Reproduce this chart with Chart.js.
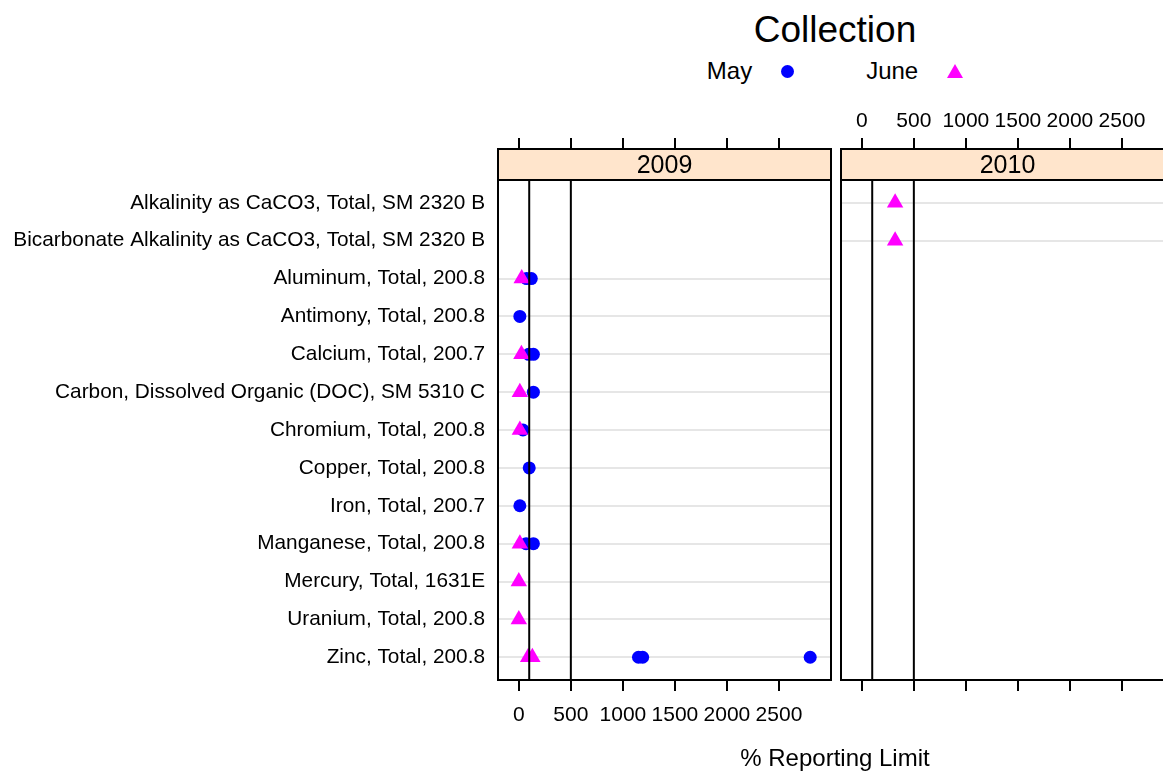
<!DOCTYPE html>
<html>
<head>
<meta charset="utf-8">
<script src="https://cdn.jsdelivr.net/npm/chart.js@4/dist/chart.umd.min.js"></script>
<style>
  body { margin:0; width:1163px; height:775px; overflow:hidden; background:#fff;
         position:relative; font-family:"Liberation Sans", Arial, sans-serif; color:#000; }
  canvas { position:absolute; top:0; }
  #title { position:absolute; left:535px; width:600px; top:9px; text-align:center; font-size:37px; }
  #legend { position:absolute; left:535px; width:600px; top:57px; display:flex;
            justify-content:center; align-items:center; font-size:24px; }
  .dot { width:13px; height:13px; border-radius:50%; background:#00f; margin:0 72px 0 29px; }
  .tri { width:0; height:0; border-left:8px solid transparent; border-right:8px solid transparent;
         border-bottom:14px solid #f0f; margin-left:29px; }
  #xlabel { position:absolute; left:535px; width:600px; top:744px; text-align:center; font-size:24px; }
</style>
</head>
<body>
<div id="title">Collection</div>
<div id="legend"><span>May</span><span class="dot"></span><span>June</span><span class="tri"></span></div>
<canvas id="p2009" width="836" height="775" style="left:0"></canvas>
<canvas id="p2010" width="345" height="775" style="left:836px"></canvas>
<div id="xlabel">% Reporting Limit</div>
<script>
// rows, top to bottom
const categories = [
    'Alkalinity as CaCO3, Total, SM 2320 B',
    'Bicarbonate Alkalinity as CaCO3, Total, SM 2320 B',
    'Aluminum, Total, 200.8',
    'Antimony, Total, 200.8',
    'Calcium, Total, 200.7',
    'Carbon, Dissolved Organic (DOC), SM 5310 C',
    'Chromium, Total, 200.8',
    'Copper, Total, 200.8',
    'Iron, Total, 200.7',
    'Manganese, Total, 200.8',
    'Mercury, Total, 1631E',
    'Uranium, Total, 200.8',
    'Zinc, Total, 200.8'
];
const xTicks = [0, 500, 1000, 1500, 2000, 2500];
const xMin = -200, xMax = 3000;
const refLines = [100, 500];

// % reporting limit per row (several samples per row)
const may2009  = [[], [], [75, 120], [10], [95, 140], [140], [40], [100], [10], [70, 140], [], [], [1150, 1190, 2800]];
const june2009 = [[], [], [28], [], [25], [10], [10], [], [], [10], [0], [0], [90, 130]];
const may2010  = [[], [], [], [], [], [], [], [], [], [], [], [], []];
const june2010 = [[320], [320], [], [], [], [], [], [], [], [], [], [], []];

const FONT = '"Liberation Sans", Arial, sans-serif';
Chart.defaults.font.family = FONT;
Chart.defaults.color = '#000';

function points(rows) {
    return rows.flatMap((vals, i) => vals.map(v => ({x: v, y: i + 1})));
}

const stripPlugin = {
    id: 'strip',
    afterDraw(chart, args, opts) {
        const {ctx, chartArea: a, scales} = chart;
        const sb = scales.y.getPixelForValue(0.4);
        ctx.save();
        ctx.fillStyle = '#ffe5cc';
        ctx.fillRect(a.left, a.top, a.right - a.left, sb - a.top);
        ctx.strokeStyle = '#000';
        ctx.lineWidth = 2;
        ctx.beginPath();
        ctx.moveTo(a.left, sb); ctx.lineTo(a.right, sb);
        ctx.stroke();
        ctx.strokeRect(a.left, a.top, a.right - a.left, a.bottom - a.top);
        ctx.fillStyle = '#000';
        ctx.font = '25px ' + FONT;
        ctx.textAlign = 'center';
        ctx.textBaseline = 'middle';
        ctx.fillText(opts.text, (a.left + a.right) / 2, (a.top + sb) / 2 + 2);
        ctx.restore();
    }
};

function panel(id, year, may, june, first) {
    const used = new Set(points(may).concat(points(june)).map(p => p.y));
    const datasets = refLines.map(v => ({
        data: [{x: v, y: 0.4}, {x: v, y: categories.length + 0.6}],
        showLine: true, pointRadius: 0, borderColor: '#000', borderWidth: 2, order: 0
    }));
    datasets.push({label: 'May', data: points(may), pointStyle: 'circle', pointRadius: 6.5,
                   backgroundColor: '#0000ff', borderWidth: 0, order: 2});
    datasets.push({label: 'June', data: points(june), pointStyle: 'triangle', pointRadius: 9.5,
                   backgroundColor: '#ff00ff', borderWidth: 0, order: 1});
    const xAxis = (pos, labels) => ({
        type: 'linear', position: pos, min: xMin, max: xMax,
        afterBuildTicks: s => { s.ticks = xTicks.map(v => ({value: v})); },
        afterFit: s => { s.height = pos === 'top' ? 149 : 95; },
        border: {display: false},
        grid: {drawOnChartArea: false, drawTicks: true, tickLength: 11, color: '#000', lineWidth: 2},
        ticks: {display: labels, font: {size: 21}, padding: pos === 'top' ? 4 : 12, maxRotation: 0,
                callback: v => String(v)}
    });
    new Chart(document.getElementById(id), {
        type: 'scatter',
        data: {datasets},
        plugins: [stripPlugin],
        options: {
            responsive: false, animation: false, devicePixelRatio: 1,
            layout: {autoPadding: false, padding: {left: 0, right: first ? 5 : 7, top: 0, bottom: 0}},
            plugins: {legend: {display: false}, tooltip: {enabled: false}, strip: {text: year}},
            scales: {
                x: xAxis('bottom', first),
                x2: xAxis('top', !first),
                y: {
                    type: 'linear', reverse: true, min: 0.4 - 0.82, max: categories.length + 0.6,
                    afterBuildTicks: s => { s.ticks = categories.map((c, i) => ({value: i + 1})); },
                    afterFit: s => { s.width = first ? 498 : 5; },
                    border: {display: false},
                    grid: {drawTicks: false, lineWidth: 2,
                           color: c => used.has(c.tick && c.tick.value) ? '#e6e6e6' : 'rgba(0,0,0,0)'},
                    ticks: {display: first, font: {size: 20.8}, padding: 13,
                            callback: v => categories[v - 1]}
                }
            }
        }
    });
}

panel('p2009', '2009', may2009, june2009, true);
panel('p2010', '2010', may2010, june2010, false);
</script>
</body>
</html>
